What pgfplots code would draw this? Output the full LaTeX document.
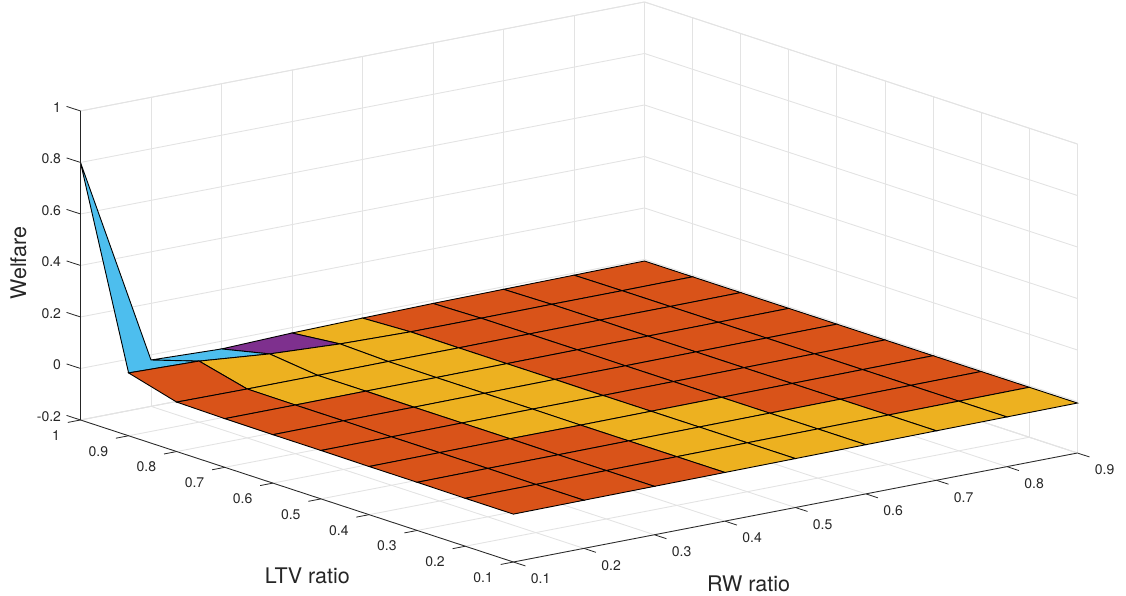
\documentclass[border=0pt]{standalone}
\usepackage{pgfplots}
\pgfplotsset{compat=1.18}
\usepackage{fontspec}
\setmainfont{TeX Gyre Heros}
\definecolor{txt}{HTML}{262626}
\definecolor{gridc}{HTML}{E3E3E3}
\begin{document}
\begin{tikzpicture}[x=1pt,y=1pt]
\path[use as bounding box] (0,0) rectangle (1126,595);
\begin{axis}[
  at={(80.5pt,33pt)},anchor=south west,
  x={(705pt,136.25pt)},y={(-481pt,157.8pt)},z={(0pt,257.5pt)},
  xmin=0.1,xmax=0.9,ymin=0.1,ymax=1,zmin=-0.2,zmax=1,
  xtick={0.1,0.2,0.3,0.4,0.5,0.6,0.7,0.8,0.9},
  ytick={0.1,0.2,0.3,0.4,0.5,0.6,0.7,0.8,0.9,1},
  ztick={-0.2,0,0.2,0.4,0.6,0.8,1},
  grid=major,
  major grid style={gridc,line width=0.9pt},
  axis line style={gridc,line width=0.9pt},
  major tick length=0pt,
  tick pos=left,
  /pgf/number format/assume math mode=true,
  /pgf/number format/fixed,
  /pgf/number format/precision=1,
  ticklabel style={font=\fontsize{14}{15}\selectfont,text=txt},
  xticklabel style={anchor=west,xshift=14pt,yshift=-17pt},
  yticklabel style={anchor=east,xshift=-17pt,yshift=-15.5pt},
  zticklabel style={anchor=east,xshift=-16pt,yshift=3.5pt},
  xlabel={RW ratio},ylabel={LTV ratio},zlabel={Welfare},
  label style={font=\fontsize{21.5}{24}\selectfont,text=txt},
  x label style={at={(axis cs:0.25,-0.169,-0.2)},anchor=center,rotate=0},
  y label style={at={(axis cs:-0.122,0.203,-0.2)},anchor=center,rotate=0},
  z label style={at={(axis cs:0.1,1.129,0.331)},anchor=center,rotate=0},
  colormap={linesmap}{rgb255=(217,83,25) rgb255=(237,177,32) rgb255=(126,47,142) rgb255=(77,190,238)},
  point meta min=0,point meta max=3,
  clip=false,
]
\addplot3[surf,shader=flat corner,draw=black,line width=0.9pt,z buffer=sort,mesh/cols=9,mesh/ordering=x varies,point meta=\thisrow{c}]
table{
x y z c
0.1 0.1 -0.014 0
0.2 0.1 -0.013 0
0.3 0.1 -0.012 0
0.4 0.1 -0.011 1
0.5 0.1 -0.010 1
0.6 0.1 -0.009 1
0.7 0.1 -0.008 1
0.8 0.1 -0.007 1
0.9 0.1 -0.006 1
0.1 0.2 -0.014 0
0.2 0.2 -0.013 0
0.3 0.2 -0.012 0
0.4 0.2 -0.011 1
0.5 0.2 -0.010 1
0.6 0.2 -0.009 1
0.7 0.2 -0.008 0
0.8 0.2 -0.007 0
0.9 0.2 -0.006 0
0.1 0.3 -0.013 0
0.2 0.3 -0.012 0
0.3 0.3 -0.012 0
0.4 0.3 -0.011 1
0.5 0.3 -0.010 1
0.6 0.3 -0.009 0
0.7 0.3 -0.008 0
0.8 0.3 -0.007 0
0.9 0.3 -0.006 0
0.1 0.4 -0.013 0
0.2 0.4 -0.012 0
0.3 0.4 -0.011 1
0.4 0.4 -0.011 1
0.5 0.4 -0.010 0
0.6 0.4 -0.009 0
0.7 0.4 -0.008 0
0.8 0.4 -0.007 0
0.9 0.4 -0.006 0
0.1 0.5 -0.012 0
0.2 0.5 -0.012 0
0.3 0.5 -0.011 1
0.4 0.5 -0.010 1
0.5 0.5 -0.010 0
0.6 0.5 -0.009 0
0.7 0.5 -0.008 0
0.8 0.5 -0.007 0
0.9 0.5 -0.006 0
0.1 0.6 -0.012 0
0.2 0.6 -0.011 0
0.3 0.6 -0.011 1
0.4 0.6 -0.010 1
0.5 0.6 -0.009 0
0.6 0.6 -0.009 0
0.7 0.6 -0.008 0
0.8 0.6 -0.007 0
0.9 0.6 -0.006 0
0.1 0.7 -0.011 0
0.2 0.7 -0.011 1
0.3 0.7 -0.010 1
0.4 0.7 -0.010 1
0.5 0.7 -0.009 0
0.6 0.7 -0.008 0
0.7 0.7 -0.008 0
0.8 0.7 -0.007 0
0.9 0.7 -0.006 0
0.1 0.8 -0.008 0
0.2 0.8 -0.010 1
0.3 0.8 -0.010 1
0.4 0.8 -0.009 1
0.5 0.8 -0.009 0
0.6 0.8 -0.008 0
0.7 0.8 -0.007 0
0.8 0.8 -0.007 0
0.9 0.8 -0.006 0
0.1 0.9 0.044 3
0.2 0.9 0.037 3
0.3 0.9 0.012 2
0.4 0.9 -0.002 1
0.5 0.9 -0.008 0
0.6 0.9 -0.008 0
0.7 0.9 -0.007 0
0.8 0.9 -0.007 0
0.9 0.9 -0.006 0
0.1 1.0 0.800 3
0.2 1.0 -0.020 3
0.3 1.0 -0.030 2
0.4 1.0 -0.021 1
0.5 1.0 -0.016 0
0.6 1.0 -0.012 0
0.7 1.0 -0.010 0
0.8 1.0 -0.008 0
0.9 1.0 -0.006 0
};
\draw[txt,line width=0.8pt] (axis cs:0.1,0.1,-0.2)--(axis cs:0.9,0.1,-0.2);
\draw[txt,line width=0.8pt] (axis cs:0.1,0.1,-0.2)--(axis cs:0.1,1,-0.2)--(axis cs:0.1,1,1);
\pgfplotsinvokeforeach{0.1,0.2,0.3,0.4,0.5,0.6,0.7,0.8,0.9}{
  \draw[txt,line width=0.8pt] (axis cs:#1,0.1,-0.2)--(axis cs:#1,0.075,-0.2);
}
\pgfplotsinvokeforeach{0.1,0.2,0.3,0.4,0.5,0.6,0.7,0.8,0.9,1}{
  \draw[txt,line width=0.8pt] (axis cs:0.1,#1,-0.2)--(axis cs:0.082,#1,-0.2);
}
\pgfplotsinvokeforeach{-0.2,0,0.2,0.4,0.6,0.8,1}{
  \draw[txt,line width=0.8pt] (axis cs:0.1,1,#1)--(axis cs:0.1,1.029,#1);
}
\end{axis}
\end{tikzpicture}
\end{document}
